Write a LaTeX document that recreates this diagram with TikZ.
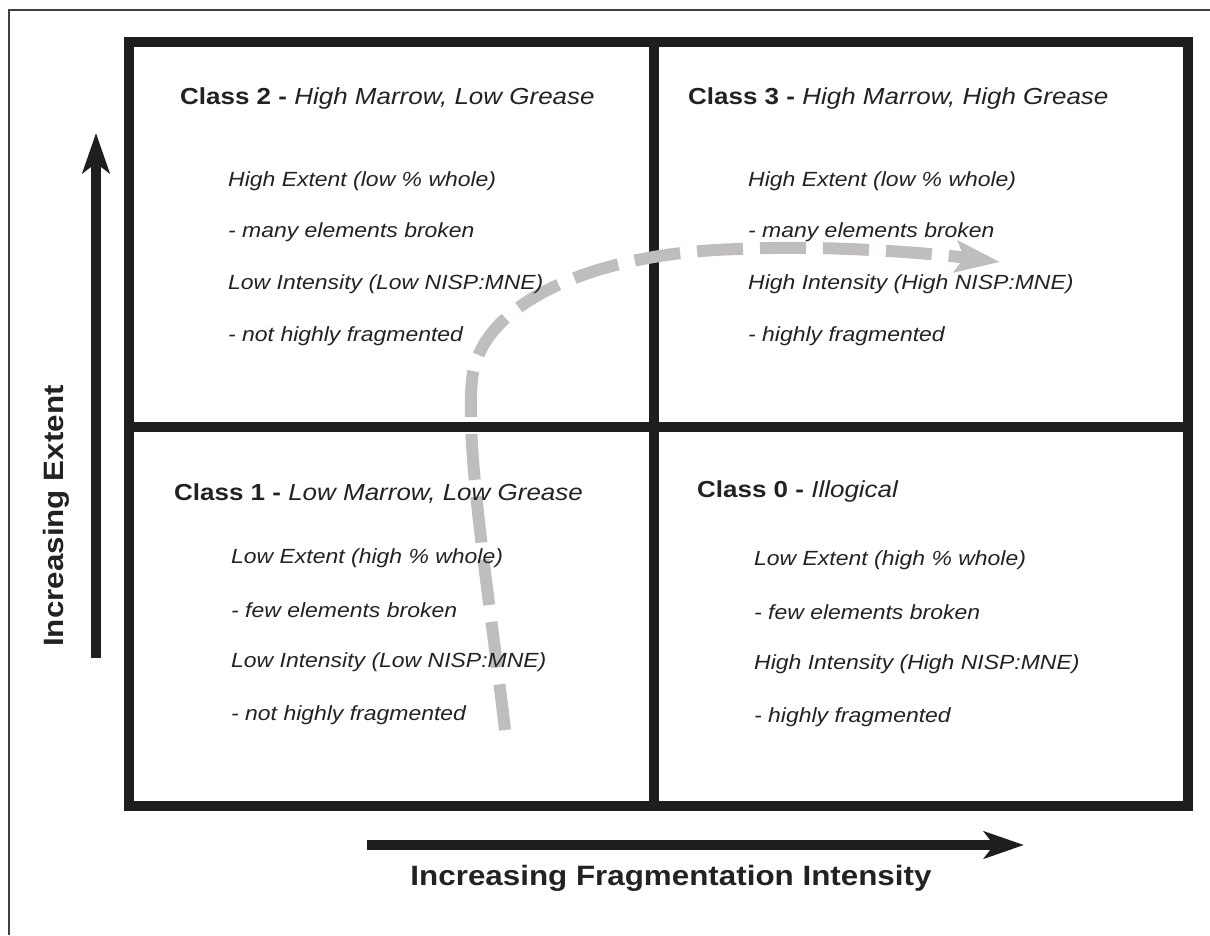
\documentclass[tikz,border=0pt]{standalone}
\usepackage{fontspec}
\setmainfont[FakeStretch=1.12]{Liberation Sans}
\usetikzlibrary{arrows.meta}
\definecolor{ink}{HTML}{1E1E1E}
\definecolor{txt}{HTML}{222222}
\definecolor{path}{HTML}{BFBDBD}
\begin{document}
\begin{tikzpicture}[x=1pt,y=-1pt,
  grid/.style={draw=ink,line width=10pt},
  frame/.style={draw=ink!85,line width=1.4pt},
  axis/.style={draw=ink,line width=10pt,-{Stealth[length=40pt,width=27pt,inset=10pt]}},
  title/.style={anchor=west,inner sep=0pt,text=txt,font=\fontsize{23.2}{27}\selectfont},
  body/.style={anchor=west,inner sep=0pt,text=txt,font=\fontsize{20.5}{24}\selectfont\itshape},
  axlabel/.style={inner sep=0pt,text=txt,font=\fontsize{28}{32}\selectfont\bfseries},
  trend/.style={draw=path,line width=12pt,dash pattern=on 46pt off 17pt,
    -{Stealth[length=44pt,width=31pt,inset=8pt,fill=path,sep=0pt]}}]
\useasboundingbox (0,0) rectangle (1210,935);
% outer frame (cropped)
\draw[frame] (9,935) -- (9,10) -- (1210,10);
% grid
\draw[grid,line join=miter] (129,42) rectangle (1188,806);
\draw[grid] (654,42) -- (654,806);
\draw[grid] (129,427) -- (1188,427);
% axes
\coordinate (yb) at (96,658);
\coordinate (yt) at (96,133);
\coordinate (xl) at (367,845);
\coordinate (xr) at (1024,845);
\draw[axis] (yb) -- (yt);
\draw[axis] (xl) -- (xr);
\node[axlabel,rotate=90] (ylab) at (56,516) {Increasing Extent};
\node[axlabel] (xlab) at (671,878) {Increasing Fragmentation Intensity};
% trend path
\coordinate (p0) at (505,730);
\coordinate (p1) at (472,380);
\coordinate (p2) at (740,249);
\coordinate (p3) at (1000,262);
\draw[trend] (p0) .. controls (490,600) and (465,450) .. (p1)
  .. controls (480,300) and (600,252) .. (p2)
  .. controls (820,245) and (920,252) .. (p3);
% Class 2
\node[title] (c2) at (180,98) {\textbf{Class 2 -} \textit{High Marrow, Low Grease}};
\node[body] (c2a) at (228,181) {High Extent (low \% whole)};
\node[body] (c2b) at (228,232) {- many elements broken};
\node[body] (c2c) at (228,284) {Low Intensity (Low NISP:MNE)};
\node[body] (c2d) at (228,336) {- not highly fragmented};
% Class 3
\node[title] (c3) at (688,98) {\textbf{Class 3 -} \textit{High Marrow, High Grease}};
\node[body] (c3a) at (748,181) {High Extent (low \% whole)};
\node[body] (c3b) at (748,232) {- many elements broken};
\node[body] (c3c) at (748,284) {High Intensity (High NISP:MNE)};
\node[body] (c3d) at (748,336) {- highly fragmented};
% Class 1
\node[title] (c1) at (174,494) {\textbf{Class 1 -} \textit{Low Marrow, Low Grease}};
\node[body] (c1a) at (231,558) {Low Extent (high \% whole)};
\node[body] (c1b) at (231,610) {- few elements broken};
\node[body] (c1c) at (231,662) {Low Intensity (Low NISP:MNE)};
\node[body] (c1d) at (231,715) {- not highly fragmented};
% Class 0
\node[title] (c0) at (697,491) {\textbf{Class 0 -} \textit{Illogical}};
\node[body] (c0a) at (754,560) {Low Extent (high \% whole)};
\node[body] (c0b) at (754,612) {- few elements broken};
\node[body] (c0c) at (754,664) {High Intensity (High NISP:MNE)};
\node[body] (c0d) at (754,717) {- highly fragmented};
\end{tikzpicture}
\end{document}
